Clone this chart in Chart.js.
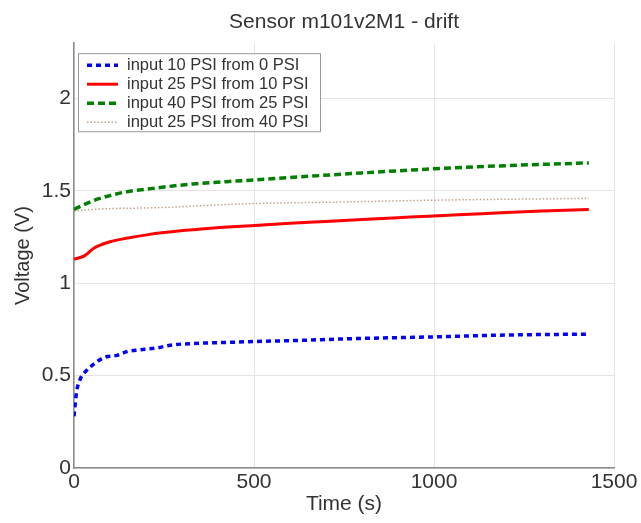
<!DOCTYPE html>
<html>
<head>
<meta charset="utf-8">
<script src="https://cdn.jsdelivr.net/npm/chart.js"></script>
<style>
  html, body { margin: 0; padding: 0; background: #fff; }
  #wrap { width: 641px; height: 523px; }
</style>
</head>
<body>
<div id="wrap"><canvas id="c" width="641" height="523"></canvas></div>
<script>
  // ─── DATA ────────────────────────────────────────────────────────────────
  const TITLE = 'Sensor m101v2M1 - drift';
  const X_LABEL = 'Time (s)';
  const Y_LABEL = 'Voltage (V)';
  const X_TICKS = [0, 500, 1000, 1500];
  const Y_TICKS = [0, 0.5, 1, 1.5, 2];

  const labels = [
    'input 10 PSI from 0 PSI',
    'input 25 PSI from 10 PSI',
    'input 40 PSI from 25 PSI',
    'input 25 PSI from 40 PSI',
  ];

  // input 10 PSI from 0 PSI
  const t10from0 = [0, 7, 17, 31, 53, 86, 120, 147, 183, 230, 267, 330, 425, 500, 610, 770, 1000, 1200, 1430];
  const v10from0 = [0.28, 0.41, 0.48, 0.52, 0.56, 0.60, 0.61, 0.63, 0.64, 0.65, 0.665, 0.674, 0.68, 0.685, 0.69, 0.70, 0.71, 0.72, 0.725];

  // input 25 PSI from 10 PSI
  const t25from10 = [0, 30, 55, 100, 150, 210, 290, 380, 500, 600, 700, 800, 900, 1000, 1100, 1200, 1300, 1430];
  const v25from10 = [1.13, 1.15, 1.19, 1.225, 1.245, 1.265, 1.283, 1.298, 1.313, 1.325, 1.335, 1.345, 1.355, 1.365, 1.374, 1.383, 1.391, 1.40];

  // input 40 PSI from 25 PSI
  const t40from25 = [0, 53, 100, 147, 219, 330, 470, 610, 770, 1000, 1200, 1430];
  const v40from25 = [1.40, 1.447, 1.475, 1.496, 1.514, 1.538, 1.556, 1.574, 1.594, 1.62, 1.637, 1.652];

  // input 25 PSI from 40 PSI
  const t25from40 = [0, 50, 240, 470, 740, 1000, 1200, 1430];
  const v25from40 = [1.39, 1.40, 1.41, 1.43, 1.44, 1.45, 1.455, 1.46];

  // ─── HELPERS ─────────────────────────────────────────────────────────────
  function pts(ts, vs) {
    return ts.map((t, i) => ({ x: t, y: vs[i] }));
  }

  function series(label, ts, vs, color, width, dash) {
    return {
      label,
      data: pts(ts, vs),
      borderColor: color,
      backgroundColor: color,
      borderWidth: width,
      borderDash: dash,
      pointRadius: 0,
      fill: false,
      cubicInterpolationMode: 'monotone',
    };
  }

  // legend box drawn inside plot area, upper left (MATLAB style)
  const boxLegend = {
    id: 'boxLegend',
    afterDraw(chart) {
      const { ctx, chartArea } = chart;
      const x0 = chartArea.left + 4, y0 = chartArea.top + 10;
      const w = 242, h = 78, rowH = 19;
      ctx.save();
      ctx.fillStyle = '#fff';
      ctx.strokeStyle = '#9a9a9a';
      ctx.lineWidth = 1;
      ctx.fillRect(x0, y0, w, h);
      ctx.strokeRect(x0 + 0.5, y0 + 0.5, w, h);
      ctx.font = '16.5px "Liberation Sans", Arial, sans-serif';
      ctx.textBaseline = 'middle';
      chart.data.datasets.forEach((ds, i) => {
        const cy = y0 + 12 + i * rowH;
        ctx.beginPath();
        ctx.setLineDash(ds.borderDash || []);
        ctx.strokeStyle = ds.borderColor;
        ctx.lineWidth = ds.borderWidth;
        ctx.moveTo(x0 + 9, cy);
        ctx.lineTo(x0 + 40, cy);
        ctx.stroke();
        ctx.setLineDash([]);
        ctx.fillStyle = '#333';
        ctx.fillText(ds.label, x0 + 49, cy);
      });
      ctx.restore();
    },
  };

  // ─── CHART ───────────────────────────────────────────────────────────────
  const FONT = '"Liberation Sans", Arial, sans-serif';

  new Chart(document.getElementById('c').getContext('2d'), {
    type: 'line',
    data: {
      datasets: [
        series(labels[0], t10from0, v10from0, '#0000ff', 3.5, [5, 4]),
        series(labels[1], t25from10, v25from10, '#ff0000', 3, []),
        series(labels[2], t40from25, v40from25, '#008000', 3.5, [7, 4]),
        series(labels[3], t25from40, v25from40, '#c4a08c', 1.5, [1.5, 2]),
      ],
    },
    options: {
      responsive: false,
      animation: false,
      layout: { padding: { left: 0, right: 27, top: 0, bottom: 0 } },
      plugins: {
        legend: { display: false },
        tooltip: { enabled: false },
        title: {
          display: true,
          text: TITLE,
          fullSize: false,
          color: '#333',
          font: { family: FONT, size: 21, weight: 'normal' },
          padding: { top: 10, bottom: 8 },
        },
      },
      scales: {
        x: {
          type: 'linear',
          min: 0,
          max: 1500,
          afterBuildTicks: s => { s.ticks = X_TICKS.map(v => ({ value: v })); },
          afterFit: s => { s.height = 55; },
          grid: { color: '#e4e4e4', drawTicks: false },
          border: { color: '#8a8a8a', width: 1.5 },
          ticks: { color: '#333', padding: 2, font: { family: FONT, size: 21 }, callback: v => String(v) },
          title: {
            display: true,
            text: X_LABEL,
            color: '#333',
            font: { family: FONT, size: 21 },
            padding: { top: 0, bottom: 6 },
          },
        },
        y: {
          type: 'linear',
          min: 0,
          max: 2.3,
          afterBuildTicks: s => { s.ticks = Y_TICKS.map(v => ({ value: v })); },
          afterFit: s => { s.width = 74; },
          grid: { color: '#e4e4e4', drawTicks: false },
          border: { color: '#8a8a8a', width: 1.5 },
          ticks: { color: '#333', padding: 3, font: { family: FONT, size: 21 }, callback: v => String(v) },
          title: {
            display: true,
            text: Y_LABEL,
            color: '#333',
            font: { family: FONT, size: 20 },
            padding: { top: 11, bottom: 0 },
          },
        },
      },
    },
    plugins: [boxLegend],
  });
</script>
</body>
</html>
